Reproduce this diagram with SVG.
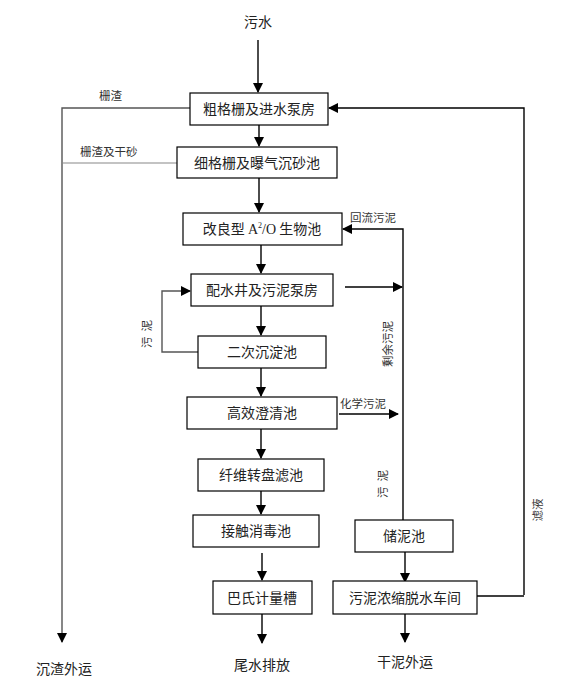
<svg xmlns="http://www.w3.org/2000/svg" width="569" height="687" viewBox="0 0 569 687">
<style>
.box{fill:#fff;stroke:#000;stroke-width:1.2}
.t{font-family:"Noto Sans CJK SC","Liberation Sans",sans-serif;font-size:14px;fill:#222;text-anchor:middle}
.lb{font-family:"Noto Sans CJK SC","Liberation Sans",sans-serif;font-size:11.5px;fill:#333}
.ln{fill:none;stroke:#000;stroke-width:1.4}
.gl{fill:none;stroke:#555;stroke-width:1.4}
.gl2{fill:none;stroke:#888;stroke-width:1.2}
</style>
<defs>
<marker id="ah" markerWidth="10" markerHeight="10" refX="9" refY="5" orient="auto" markerUnits="userSpaceOnUse">
<path d="M0,0 L10,5 L0,10 Z" fill="#000"/>
</marker>
</defs>
<g id="connectors">
<path class="ln" d="M258,40 V92" marker-end="url(#ah)"/>
<path class="gl" d="M190,108 H62 V642" marker-end="url(#ah)"/>
<path class="gl2" d="M178,163 H62"/>
<path class="ln" d="M259,125 V146" marker-end="url(#ah)"/>
<path class="ln" d="M524,595 V108 H329" marker-end="url(#ah)"/>
<path class="ln" d="M259,178 V212" marker-end="url(#ah)"/>
<path class="ln" d="M261,245 V273" marker-end="url(#ah)"/>
<path class="ln" d="M403,520 V229 H343" marker-end="url(#ah)"/>
<path class="ln" d="M345,287 H402" marker-end="url(#ah)"/>
<path class="gl" d="M198,352 H162 V291 H190" marker-end="url(#ah)"/>
<path class="ln" d="M261,306 V335" marker-end="url(#ah)"/>
<path class="ln" d="M261,368 V396" marker-end="url(#ah)"/>
<path class="ln" d="M339,414 H398" marker-end="url(#ah)"/>
<path class="ln" d="M261,429 V458" marker-end="url(#ah)"/>
<path class="ln" d="M261,491 V514" marker-end="url(#ah)"/>
<path class="ln" d="M262,553 V580" marker-end="url(#ah)"/>
<path class="ln" d="M262,614 V643" marker-end="url(#ah)"/>
<path class="ln" d="M405,552 V582" marker-end="url(#ah)"/>
<path class="ln" d="M405,614 V642" marker-end="url(#ah)"/>
<path class="ln" d="M477,596 H524"/>
</g>
<g id="labels">
<text class="t" x="258" y="27">污水</text>
<text class="lb" x="99" y="100">栅渣</text>
<text class="lb" x="80" y="156">栅渣及干砂</text>
<text class="lb" x="350" y="222">回流污泥</text>
<text class="lb" x="340" y="408">化学污泥</text>
<text class="lb" transform="translate(151,334) rotate(-90)" text-anchor="middle" xml:space="preserve">污  泥</text>
<text class="lb" transform="translate(392,344) rotate(-90)" text-anchor="middle">剩余污泥</text>
<text class="lb" transform="translate(387,484) rotate(-90)" text-anchor="middle" xml:space="preserve">污  泥</text>
<text class="lb" transform="translate(542,510) rotate(-90)" text-anchor="middle">滤液</text>
<text class="t" x="64" y="674">沉渣外运</text>
<text class="t" x="262" y="670">尾水排放</text>
<text class="t" x="405" y="667">干泥外运</text>
</g>
<g id="n1"><rect class="box" x="190" y="93" width="138" height="32"/><text class="t" x="259" y="114">粗格栅及进水泵房</text></g>
<g id="n2"><rect class="box" x="177" y="147" width="160" height="31"/><text class="t" x="257" y="168">细格栅及曝气沉砂池</text></g>
<g id="n3"><rect class="box" x="183" y="213" width="159" height="32"/><text class="t" x="262" y="234">改良型 <tspan font-family="Liberation Serif,serif">A</tspan><tspan font-family="Liberation Serif,serif" font-size="8" dy="-6">2</tspan><tspan font-family="Liberation Serif,serif" dy="6">/O</tspan> 生物池</text></g>
<g id="n4"><rect class="box" x="191" y="274" width="142" height="32"/><text class="t" x="262" y="295">配水井及污泥泵房</text></g>
<g id="n5"><rect class="box" x="198" y="336" width="128" height="32"/><text class="t" x="262" y="357">二次沉淀池</text></g>
<g id="n6"><rect class="box" x="187" y="397" width="150" height="32"/><text class="t" x="262" y="418">高效澄清池</text></g>
<g id="n7"><rect class="box" x="198" y="459" width="126" height="32"/><text class="t" x="261" y="480">纤维转盘滤池</text></g>
<g id="n8"><rect class="box" x="193" y="515" width="126" height="32"/><text class="t" x="256" y="536">接触消毒池</text></g>
<g id="n9"><rect class="box" x="213" y="581" width="99" height="33"/><text class="t" x="262" y="603">巴氏计量槽</text></g>
<g id="n10"><rect class="box" x="355" y="520" width="98" height="32"/><text class="t" x="404" y="541">储泥池</text></g>
<g id="n11"><rect class="box" x="333" y="581" width="144" height="33"/><text class="t" x="405" y="603">污泥浓缩脱水车间</text></g>
</svg>
